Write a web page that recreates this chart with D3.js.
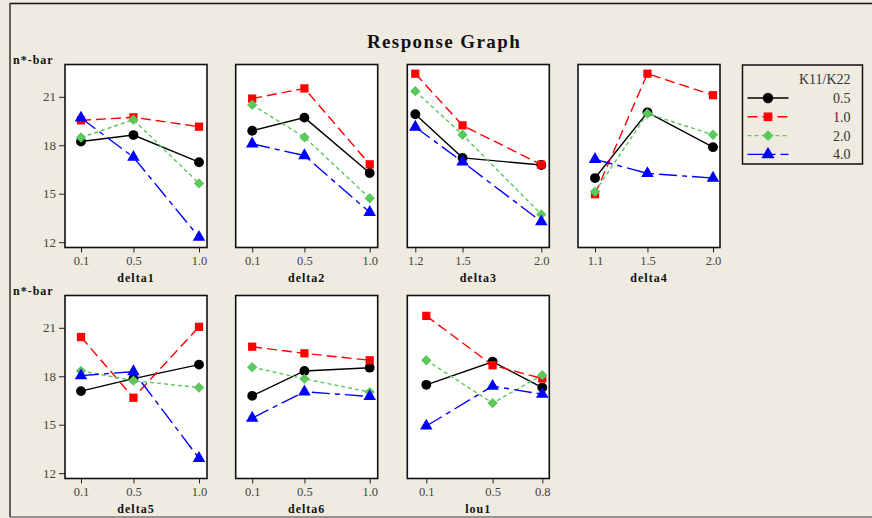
<!DOCTYPE html>
<html>
<head>
<meta charset="utf-8">
<script src="https://cdn.jsdelivr.net/npm/d3@7"></script>
<style>
  body { margin: 0; background: #efebe1; }
  svg { display: block; }
  text { font-family: "Liberation Serif", "DejaVu Serif", serif; }
</style>
</head>
<body>
<svg id="chart"></svg>
<script>
// response graph data
var factors = ["delta1", "delta2", "delta3", "delta4", "delta5", "delta6", "lou1"];
var levels = [[0.1, 0.5, 1.0], [0.1, 0.5, 1.0], [1.2, 1.5, 2.0], [1.1, 1.5, 2.0],
              [0.1, 0.5, 1.0], [0.1, 0.5, 1.0], [0.1, 0.5, 0.8]];
var ratios = ["0.5", "1.0", "2.0", "4.0"];
var mean05 = [[18.23, 18.63, 16.95], [18.90, 19.71, 16.28], [19.92, 17.22, 16.78], [15.97, 20.04, 17.88],
              [17.08, 17.85, 18.72], [16.79, 18.33, 18.53], [17.47, 18.90, 17.30]];
var mean10 = [[19.54, 19.73, 19.15], [20.89, 21.52, 16.82], [22.43, 19.23, 16.80], [14.97, 22.43, 21.10],
              [20.43, 16.67, 21.06], [19.83, 19.42, 18.99], [21.74, 18.68, 17.86]];
var mean20 = [[18.48, 19.58, 15.64], [20.50, 18.50, 14.72], [21.35, 18.65, 13.72], [15.12, 19.96, 18.65],
              [18.33, 17.73, 17.30], [18.56, 17.84, 17.02], [18.99, 16.34, 18.07]];
var mean40 = [[19.69, 17.26, 12.31], [18.09, 17.36, 13.85], [19.13, 16.97, 13.27], [17.13, 16.26, 15.97],
              [18.04, 18.29, 12.92], [15.41, 17.04, 16.75], [14.92, 17.39, 16.89]];
var yTicks = [12, 15, 18, 21];

var series = [mean05, mean10, mean20, mean40];

// styles for each series
var colors = ["#000000", "#ff0000", "#5cc85c", "#0000ff"];
var dashes = [null, "10,5", "4,3", "18,5,5,5"];
var shapes = [d3.symbolCircle, d3.symbolSquare, d3.symbolSquare, d3.symbolTriangle];
var shapeSize = [76, 68, 54, 68];
var shapeRot = [0, 0, 45, 0];

var W = 872, H = 518;
var svg = d3.select("#chart").attr("width", W).attr("height", H);

// outer frame
svg.append("line").attr("x1", 10).attr("x2", W).attr("y1", 3.5).attr("y2", 3.5)
   .attr("stroke", "#111").attr("stroke-width", 1.5);
svg.append("line").attr("x1", 10).attr("x2", 10).attr("y1", 3).attr("y2", 517)
   .attr("stroke", "#333").attr("stroke-width", 1.5);
svg.append("line").attr("x1", 10).attr("x2", W).attr("y1", 517).attr("y2", 517)
   .attr("stroke", "#777").attr("stroke-width", 1.5);

svg.append("text").attr("x", 444).attr("y", 48).attr("text-anchor", "middle")
   .style("font-size", "19px").style("font-weight", "bold").style("letter-spacing", "1.4px")
   .attr("fill", "#111").text("Response Graph");

// panel placement
var colX = [65, 235.7, 407.3, 578];
var rowY = [64.5, 295.5];
var pw = 142, ph = 183;
var padL = [16, 16.5, 8, 17, 16, 16.5, 19];
var padR = [8, 8, 8, 7, 8, 8, 7];

var y = d3.scaleLinear().domain([11.67, 23.0]).range([ph, 0]);
var fmt = d3.format(".1f");

factors.forEach(function (f, i) {
  var col = i % 4, row = Math.floor(i / 4);
  var g = svg.append("g").attr("transform", "translate(" + colX[col] + "," + rowY[row] + ")");
  var lv = levels[i];
  var x = d3.scaleLinear().domain([lv[0], lv[2]]).range([padL[i], pw - padR[i]]);

  g.append("rect").attr("width", pw).attr("height", ph).attr("fill", "#fff");

  // x axis
  var xa = g.append("g").attr("transform", "translate(0," + ph + ")")
    .call(d3.axisBottom(x).tickValues(lv).tickFormat(fmt).tickSize(5).tickSizeOuter(0));
  xa.select(".domain").remove();
  xa.selectAll("line").attr("stroke", "#222");
  xa.selectAll("text").attr("y", 9).attr("fill", "#444")
    .style("font-size", "12.5px").style("font-family", "Liberation Serif, serif");

  g.append("text").attr("x", pw / 2).attr("y", ph + 34).attr("text-anchor", "middle")
   .style("font-size", "12px").style("font-weight", "bold").style("letter-spacing", "1px")
   .attr("fill", "#111").text(f);

  if (col == 0) {
    var ya = g.append("g")
      .call(d3.axisLeft(y).tickValues(yTicks).tickSize(6).tickSizeOuter(0));
    ya.select(".domain").remove();
    ya.selectAll("line").attr("stroke", "#222");
    ya.selectAll("text").attr("x", -9).attr("fill", "#444")
      .style("font-size", "13px").style("font-family", "Liberation Serif, serif");
    g.append("text").attr("x", -52).attr("y", -1)
     .style("font-size", "12px").style("font-weight", "bold").style("letter-spacing", "1px")
     .attr("fill", "#111").text("n*-bar");
  }

  series.forEach(function (s, k) {
    var pts = lv.map(function (v, j) { return [v, s[i][j]]; });
    var line = d3.line().x(function (d) { return x(d[0]); }).y(function (d) { return y(d[1]); });
    g.append("path").datum(pts).attr("d", line).attr("fill", "none")
     .attr("stroke", colors[k]).attr("stroke-width", 1.4)
     .attr("stroke-dasharray", dashes[k]);
    g.selectAll(".m" + k).data(pts).enter().append("path")
     .attr("transform", function (d) {
       return "translate(" + x(d[0]) + "," + y(d[1]) + ") rotate(" + shapeRot[k] + ")";
     })
     .attr("d", d3.symbol().type(shapes[k]).size(shapeSize[k]))
     .attr("fill", colors[k]);
  });

  g.append("rect").attr("width", pw).attr("height", ph)
   .attr("fill", "none").attr("stroke", "#111").attr("stroke-width", 1.6);
});

// legend
var lg = svg.append("g").attr("transform", "translate(742.5,65)");
lg.append("rect").attr("width", 120).attr("height", 99)
  .attr("fill", "none").attr("stroke", "#111").attr("stroke-width", 1.5);
lg.append("text").attr("x", 108).attr("y", 19).attr("text-anchor", "end")
  .style("font-size", "14px").attr("fill", "#333").text("K11/K22");
ratios.forEach(function (r, k) {
  var ly = 33 + k * 18.8;
  lg.append("line").attr("x1", 5).attr("x2", 46).attr("y1", ly).attr("y2", ly)
    .attr("stroke", colors[k]).attr("stroke-width", 1.4).attr("stroke-dasharray", dashes[k]);
  lg.append("path")
    .attr("transform", "translate(25.5," + ly + ") rotate(" + shapeRot[k] + ")")
    .attr("d", d3.symbol().type(shapes[k]).size(shapeSize[k] * 1.1))
    .attr("fill", colors[k]);
  lg.append("text").attr("x", 108).attr("y", ly + 5).attr("text-anchor", "end")
    .style("font-size", "14px").attr("fill", "#333").text(r);
});
</script>
</body>
</html>
